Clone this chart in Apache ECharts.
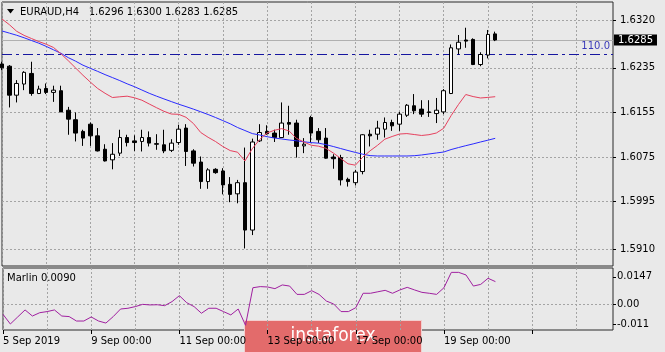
<!DOCTYPE html>
<html>
<head>
<meta charset="utf-8">
<style>
  html, body { margin: 0; padding: 0; background: #e9e9e9; }
  #chart { width: 665px; height: 352px; }
</style>
</head>
<body>
<div id="chart"></div>
<script src="https://cdn.jsdelivr.net/npm/echarts@6/dist/echarts.min.js"></script>
<script>
// EURAUD H4 with two MAs and the Marlin oscillator underneath.
const FONT = '"DejaVu Sans", sans-serif';

// OHLC per H4 bar, oldest first
const openP = [
  1.6242, 1.6238, 1.6186, 1.6206, 1.6225, 1.6189, 1.6198, 1.6191, 1.6194, 1.6159,
  1.6142, 1.6121, 1.6134, 1.6113, 1.6089, 1.6070, 1.6082, 1.6110, 1.6104, 1.6103,
  1.6110, 1.6099, 1.6097, 1.6087, 1.6101, 1.6127, 1.6086, 1.6066, 1.6031, 1.6053,
  1.6050, 1.6026, 1.6009, 1.6029, 1.5944, 1.6104, 1.6121, 1.6118, 1.6110, 1.6137,
  1.6136, 1.6095, 1.6146, 1.6121, 1.6109, 1.6075, 1.6074, 1.6035, 1.6029, 1.6049,
  1.6116, 1.6116, 1.6125, 1.6137, 1.6134, 1.6150, 1.6167, 1.6161, 1.6156, 1.6153,
  1.6156, 1.6189, 1.6269, 1.6285, 1.6286, 1.6241, 1.6258, 1.6296,
];
const highP = [
  1.6246, 1.6240, 1.6213, 1.6229, 1.6246, 1.6203, 1.6207, 1.6203, 1.6203, 1.6165,
  1.6155, 1.6124, 1.6137, 1.6127, 1.6098, 1.6100, 1.6124, 1.6115, 1.6114, 1.6124,
  1.6121, 1.6116, 1.6124, 1.6107, 1.6133, 1.6134, 1.6089, 1.6076, 1.6055, 1.6055,
  1.6055, 1.6039, 1.6034, 1.6092, 1.6108, 1.6134, 1.6132, 1.6124, 1.6173, 1.6167,
  1.6142, 1.6109, 1.6149, 1.6127, 1.6127, 1.6080, 1.6079, 1.6038, 1.6052, 1.6116,
  1.6124, 1.6140, 1.6146, 1.6142, 1.6156, 1.6170, 1.6188, 1.6177, 1.6177, 1.6181,
  1.6197, 1.6277, 1.6294, 1.6307, 1.6288, 1.6263, 1.6303, 1.6300,
];
const lowP = [
  1.6231, 1.6164, 1.6173, 1.6195, 1.6185, 1.6188, 1.6188, 1.6174, 1.6156, 1.6115,
  1.6103, 1.6095, 1.6095, 1.6085, 1.6067, 1.6053, 1.6077, 1.6094, 1.6086, 1.6085,
  1.6094, 1.6088, 1.6082, 1.6084, 1.6097, 1.6059, 1.6058, 1.6018, 1.6018, 1.6045,
  1.6008, 1.5994, 1.5992, 1.5911, 1.5935, 1.6102, 1.6115, 1.6102, 1.6109, 1.6115,
  1.6074, 1.6082, 1.6100, 1.6100, 1.6072, 1.6054, 1.6024, 1.6022, 1.6024, 1.6044,
  1.6094, 1.6106, 1.6110, 1.6122, 1.6122, 1.6147, 1.6152, 1.6147, 1.6147, 1.6136,
  1.6152, 1.6188, 1.6259, 1.6271, 1.6240, 1.6238, 1.6252, 1.6283,
];
const closeP = [
  1.6235, 1.6186, 1.6207, 1.6227, 1.6189, 1.6197, 1.6191, 1.6195, 1.6156, 1.6143,
  1.6118, 1.6109, 1.6113, 1.6086, 1.6068, 1.6080, 1.6110, 1.6101, 1.6101, 1.6110,
  1.6100, 1.6098, 1.6086, 1.6100, 1.6125, 1.6085, 1.6064, 1.6031, 1.6052, 1.6047,
  1.6025, 1.6008, 1.6029, 1.5944, 1.6102, 1.6119, 1.6117, 1.6110, 1.6136, 1.6134,
  1.6094, 1.6098, 1.6118, 1.6106, 1.6073, 1.6072, 1.6034, 1.6031, 1.6048, 1.6115,
  1.6113, 1.6127, 1.6137, 1.6131, 1.6152, 1.6168, 1.6158, 1.6152, 1.6155, 1.6159,
  1.6194, 1.6271, 1.6281, 1.6283, 1.6241, 1.6259, 1.6295, 1.6285,
];

// moving averages as drawn on the chart
const maFast = [
  1.63227, 1.63125, 1.63006, 1.62933, 1.62877, 1.62822, 1.62775, 1.62716, 1.62604, 1.62479,
  1.62348, 1.62217, 1.62095, 1.61980, 1.61894, 1.61818, 1.61831, 1.61842, 1.61813, 1.61770,
  1.61702, 1.61635, 1.61571, 1.61522, 1.61517, 1.61463, 1.61352, 1.61190, 1.61104, 1.61029,
  1.60939, 1.60866, 1.60837, 1.60679, 1.60900, 1.61065, 1.61181, 1.61230, 1.61260, 1.61217,
  1.61086, 1.61020, 1.60962, 1.60945, 1.60907, 1.60823, 1.60727, 1.60629, 1.60604, 1.60747,
  1.60862, 1.60959, 1.61070, 1.61119, 1.61163, 1.61171, 1.61154, 1.61137, 1.61151, 1.61181,
  1.61266, 1.61492, 1.61691, 1.61872, 1.61835, 1.61810, 1.61820, 1.61833,
];
const maSlow = [
  1.63012, 1.62974, 1.62935, 1.62890, 1.62841, 1.62793, 1.62736, 1.62674, 1.62612, 1.62534,
  1.62470, 1.62398, 1.62342, 1.62287, 1.62229, 1.62176, 1.62122, 1.62064, 1.62012, 1.61953,
  1.61894, 1.61842, 1.61793, 1.61745, 1.61698, 1.61655, 1.61610, 1.61562, 1.61513, 1.61460,
  1.61404, 1.61347, 1.61280, 1.61226, 1.61171, 1.61146, 1.61115, 1.61092, 1.61074, 1.61056,
  1.61042, 1.61024, 1.61009, 1.60999, 1.60973, 1.60939, 1.60903, 1.60867, 1.60833, 1.60801,
  1.60776, 1.60769, 1.60769, 1.60769, 1.60769, 1.60769, 1.60774, 1.60787, 1.60805, 1.60823,
  1.60840, 1.60884, 1.60920, 1.60954, 1.60986, 1.61020, 1.61052, 1.61086,
];

// Marlin oscillator
const marlin = [
  -0.0056, -0.0108, -0.0070, -0.0032, -0.0065, -0.0047, -0.0041, -0.0032, -0.0065, -0.0068,
  -0.0092, -0.0092, -0.0070, -0.0092, -0.0103, -0.0068, -0.0027, -0.0023, -0.0014, -0.0002,
  -0.0005, -0.0004, -0.0009, 0.0013, 0.0045, 0.0007, -0.0014, -0.0050, -0.0023, -0.0023,
  -0.0041, -0.0059, -0.0027, -0.0115, 0.0088, 0.0094, 0.0092, 0.0083, 0.0103, 0.0097,
  0.0052, 0.0052, 0.0072, 0.0052, 0.0016, 0.0000, -0.0041, -0.0041, -0.0020, 0.0058,
  0.0058, 0.0066, 0.0074, 0.0058, 0.0076, 0.0090, 0.0076, 0.0063, 0.0058, 0.0052,
  0.0088, 0.0171, 0.0171, 0.0157, 0.0097, 0.0106, 0.0139, 0.0121,
];

// axis labels
const dateTicks = ['5 Sep 2019', '9 Sep 00:00', '11 Sep 00:00', '13 Sep 00:00', '17 Sep 00:00', '19 Sep 00:00'];
const priceTicks = [1.6320, 1.6235, 1.6155, 1.6075, 1.5995, 1.5910];
const marlinTicks = [0.0147, 0, -0.011];
const marlinTickText = ['0.0147', '0.00', '-0.011'];
const fiboLevel = 1.6260;   // "110.0" level
const header = 'EURAUD,H4   1.6296 1.6300 1.6283 1.6285';

// 68 bars plus empty slots to the right, like the terminal's chart shift
const SLOTS = 84;
const cats = Array.from({ length: SLOTS }, (_, i) => String(i));
const lastClose = closeP[closeP.length - 1];

const GRIDLINE = { color: '#a4a4a4', width: 1, type: [2, 2] };
const txt = (extra = {}) => ({ color: '#000', fontFamily: FONT, fontSize: 10, ...extra });

// markLine rounds yAxis values to `precision` (default 2), so keep it high
const levelLines = (data) => ({ silent: true, symbol: 'none', animation: false, precision: 6, data });

const chart = echarts.init(document.getElementById('chart'), null, { renderer: 'canvas' });

chart.setOption({
  animation: false,
  backgroundColor: '#e9e9e9',
  grid: [
    { left: 2, top: 2, width: 611, height: 264, show: true, borderColor: '#2a2a2a', borderWidth: 1, backgroundColor: 'transparent' },
    { left: 2, top: 268, width: 611, height: 62, show: true, borderColor: '#2a2a2a', borderWidth: 1, backgroundColor: 'transparent' },
  ],
  xAxis: [
    {
      type: 'category', gridIndex: 0, data: cats, boundaryGap: false,
      axisLine: { show: false, onZero: false }, axisTick: { show: false }, axisLabel: { show: false },
      splitLine: { show: true, interval: 5, lineStyle: GRIDLINE },
    },
    {
      type: 'category', gridIndex: 1, data: cats, boundaryGap: false, position: 'bottom',
      axisLine: { show: false, onZero: false },
      axisTick: { show: true, interval: 11, length: 4, lineStyle: { color: '#000' } },
      axisLabel: {
        ...txt(), interval: 11, align: 'left', margin: 6,
        formatter: (v, i) => (i < closeP.length && dateTicks[i / 12]) || '',
      },
      splitLine: { show: true, interval: 5, lineStyle: GRIDLINE },
    },
  ],
  yAxis: [
    {
      type: 'value', gridIndex: 0, position: 'right', min: 1.58795, max: 1.63532,
      axisLine: { show: false },
      axisTick: { show: true, length: 3, customValues: priceTicks, lineStyle: { color: '#000' } },
      axisLabel: { ...txt(), margin: 7, customValues: priceTicks, formatter: (v) => v.toFixed(4) },
      splitLine: { show: false },
    },
    {
      type: 'value', gridIndex: 1, position: 'right', min: -0.01405, max: 0.01946,
      axisLine: { show: false },
      axisTick: { show: true, length: 3, customValues: marlinTicks, lineStyle: { color: '#000' } },
      axisLabel: {
        ...txt(), margin: 4, customValues: marlinTicks,
        formatter: (v) => marlinTickText[marlinTicks.findIndex((t) => Math.abs(t - v) < 1e-9)] || '',
      },
      splitLine: { show: false },
    },
  ],
  series: [
    {
      type: 'candlestick', xAxisIndex: 0, yAxisIndex: 0, barWidth: 4, z: 3,
      data: openP.map((o, i) => [o, closeP[i], lowP[i], highP[i]]),
      itemStyle: { color: '#ffffff', color0: '#000000', borderColor: '#000000', borderColor0: '#000000', borderColorDoji: '#000000', borderWidth: 1 },
    },
    {
      type: 'line', xAxisIndex: 0, yAxisIndex: 0, data: maSlow, symbol: 'none', z: 4,
      lineStyle: { color: '#2a2aff', width: 1 },
      // horizontal price grid at the terminal's uneven label steps
      markLine: {
        ...levelLines(priceTicks.map((v) => ({ yAxis: v }))),
        z: 1, label: { show: false }, lineStyle: GRIDLINE,
      },
    },
    {
      type: 'line', xAxisIndex: 0, yAxisIndex: 0, data: maFast, symbol: 'none', z: 4,
      lineStyle: { color: '#e6415e', width: 1 },
      // bid line and the 110.0 level
      markLine: {
        ...levelLines([
          {
            yAxis: lastClose,
            lineStyle: { color: '#b0b0b0', width: 1, type: 'solid' },
            label: {
              show: true, position: 'end', distance: 1, formatter: lastClose.toFixed(4),
              backgroundColor: '#000', color: '#fff', fontFamily: FONT, fontSize: 10,
              lineHeight: 10, padding: [1, 4, 0, 4],
            },
          },
          {
            yAxis: fiboLevel,
            lineStyle: { color: '#1616a0', width: 1, type: [10, 4, 3, 4] },
            label: {
              show: true, position: 'insideEndTop', distance: 3, formatter: '110.0',
              color: '#3a3ab8', fontFamily: FONT, fontSize: 10,
            },
          },
        ]),
        z: 2,
      },
    },
    {
      type: 'line', xAxisIndex: 1, yAxisIndex: 1, data: marlin, symbol: 'none',
      lineStyle: { color: '#a020a0', width: 1 },
      markLine: { ...levelLines([{ yAxis: 0 }]), z: 1, label: { show: false }, lineStyle: GRIDLINE },
    },
  ],
  graphic: [
    { type: 'polygon', shape: { points: [[7, 9], [14, 9], [10.5, 13.5]] }, style: { fill: '#000' } },
    { type: 'text', x: 20, y: 12, style: { text: header, fill: '#000', font: `10px ${FONT}`, verticalAlign: 'middle' } },
    { type: 'text', x: 7, y: 278.5, style: { text: 'Marlin 0.0090', fill: '#000', font: `10px ${FONT}`, verticalAlign: 'middle' } },
    {
      type: 'group', z: 100,
      children: [
        { type: 'rect', shape: { x: 244.5, y: 320.5, width: 177, height: 40 }, style: { fill: '#e36b6b', stroke: '#f2cfcf', lineWidth: 1 } },
        {
          type: 'text', x: 333, y: 336,
          style: {
            text: 'instaforex', fill: '#ffffff', align: 'center', verticalAlign: 'middle',
            font: `19px "DejaVu Sans Condensed", "DejaVu Sans", sans-serif`,
          },
        },
      ],
    },
  ],
});
</script>
</body>
</html>
